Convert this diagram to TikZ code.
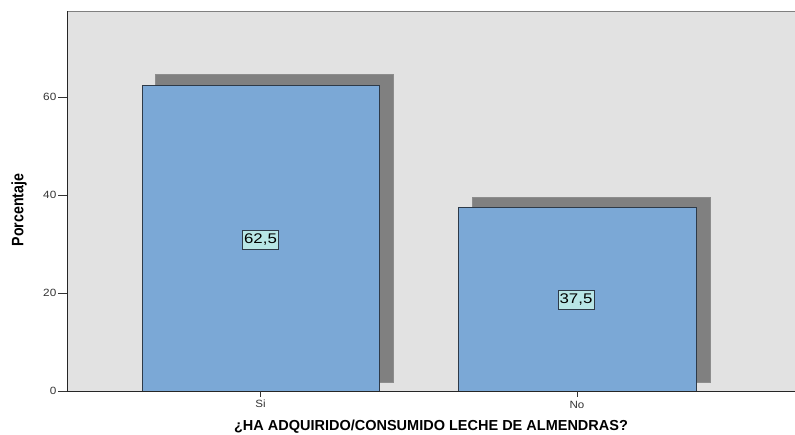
\documentclass[tikz,border=0pt]{standalone}
\usepackage{fontspec}
\setmainfont{Liberation Sans}
\usepackage{graphicx}
\definecolor{plotbg}{HTML}{E2E2E2}
\definecolor{barfill}{HTML}{7BA8D6}
\definecolor{barline}{HTML}{2E3A48}
\definecolor{shadowc}{HTML}{808080}
\definecolor{lblfill}{HTML}{B8E6E6}
\newcommand{\wide}[2]{\scalebox{#1}[1]{#2}}
\begin{document}
\begin{tikzpicture}[x=1pt,y=-1pt,
  bar/.style={fill=barfill,draw=barline,line width=0.9pt},
  shadowbar/.style={fill=shadowc,draw=shadowc!90!white,line width=0.4pt},
  vlabel/.style={draw=barline,fill=lblfill,line width=0.7pt,inner xsep=1.5pt,inner ysep=1pt,minimum height=19pt,font=\fontsize{14}{15}\selectfont},
  ticklbl/.style={font=\fontsize{10.5}{11}\selectfont,text=black!80},
  axisline/.style={draw=black!85,line width=0.9pt}]
\useasboundingbox (0,0) rectangle (795,434);
% plot area
\fill[plotbg] (67,11) rectangle (795,391);
\draw[black!50,line width=1pt] (67,11) -- (795,11);
% shadows
\fill[shadowbar] (155,74) rectangle (393,382);
\fill[shadowbar] (472,197) rectangle (710,382);
% bars
\draw[bar] (142,85) rectangle (379,391);
\draw[bar] (458,207) rectangle (696,391);
% axes
\draw[axisline] (67,11) -- (67,391) -- (795,391);
% y ticks
\foreach \v/\yy in {0/391,20/293,40/195,60/97}{
  \draw[black!80,line width=0.8pt] (58,\yy) -- (67,\yy);
  \node[ticklbl,anchor=east,inner sep=0pt] (yt\v) at (56.5,\yy) {\wide{1.12}{\v}};
}
% x ticks
\draw[black!80,line width=0.8pt] (260.5,391) -- (260.5,397);
\draw[black!80,line width=0.8pt] (577,391) -- (577,397);
\node[ticklbl,inner sep=0pt] (xsi) at (260.5,404) {\wide{1.1}{Si}};
\node[ticklbl,inner sep=0pt] (xno) at (577,404.5) {\wide{1.1}{No}};
% value labels
\node[vlabel] (l1) at (260.5,239.5) {\wide{1.2}{62,5}};
\node[vlabel] (l2) at (576,300) {\wide{1.2}{37,5}};
% axis titles
\node[rotate=90,inner sep=0pt] (ytitle) at (19,210) {\scalebox{0.86}[1]{\fontsize{16.5}{17}\selectfont\bfseries Porcentaje}};
\node[inner sep=0pt] (xtitle) at (431,427) {\fontsize{14.5}{15}\selectfont\bfseries ¿HA ADQUIRIDO/CONSUMIDO LECHE DE ALMENDRAS?};
\end{tikzpicture}
\end{document}
